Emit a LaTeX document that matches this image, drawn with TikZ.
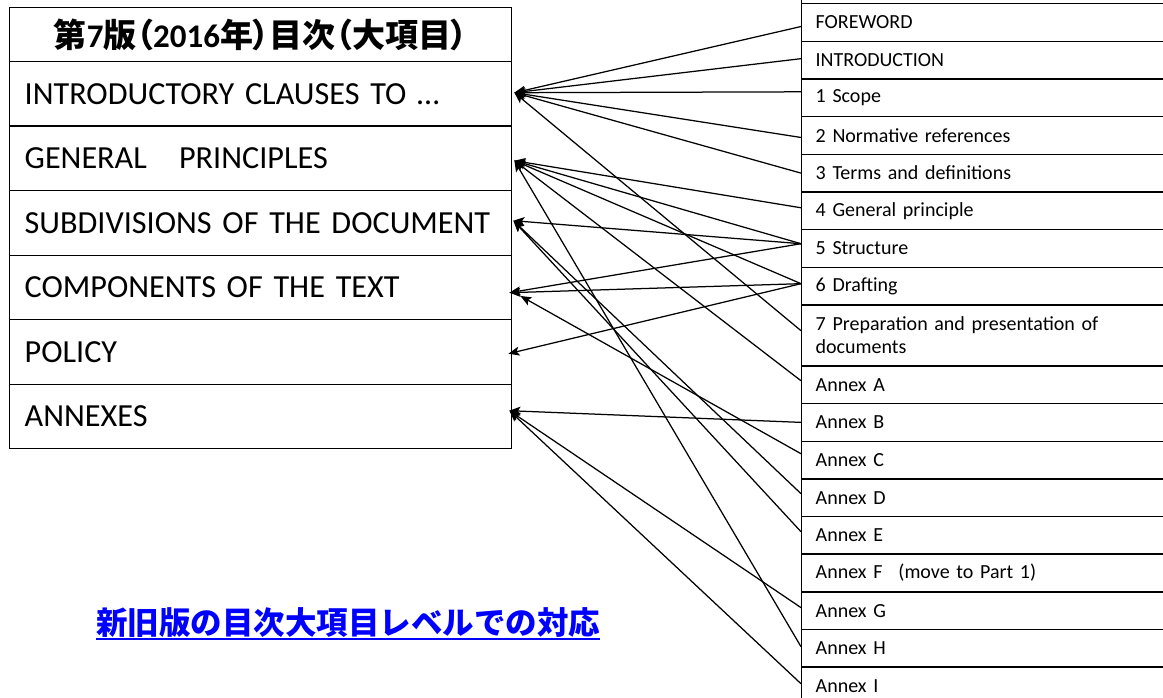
\documentclass[tikz,border=0pt]{standalone}
\usepackage{fontspec}
\setmainfont{Carlito}
\newfontfamily\cjk{Noto Sans CJK JP}
\newfontfamily\cjkp{Noto Sans CJK JP}[RawFeature=+palt]
\usetikzlibrary{arrows.meta,calc}
\definecolor{linkblue}{RGB}{0,0,255}
\begin{document}
\begin{tikzpicture}[x=1pt,y=-1pt,
  lrow/.style={draw, line width=1.4pt, minimum width=502pt, minimum height=64.5pt,
    text width=472pt, inner xsep=15pt, inner ysep=0pt, align=left, anchor=north west,
    font=\fontsize{32.2}{39}\selectfont},
  rrow/.style={draw, line width=1.4pt, minimum width=380pt, minimum height=37.65pt,
    text width=352pt, inner xsep=14pt, inner ysep=0pt, align=left, anchor=north west,
    font=\fontsize{20}{23}\selectfont},
  arr/.style={line width=1.25pt, -{Stealth[length=11pt,width=9pt,inset=2.5pt]}}]
\useasboundingbox (0,0) rectangle (1163,698);
\clip (0,0) rectangle (1163,698);

% left table
\node[lrow, minimum height=54pt, align=center, font=\cjkp\bfseries\fontsize{33}{39}\selectfont] (hd) at (9,7)
  {第{\rmfamily 7}版（{\rmfamily 2016}年）目次（大項目）};
\node[lrow] (l1) at (9,61) {\mbox{INTRODUCTORY CLAUSES TO …}};
\node[lrow] (l2) at (9,125.5) {\mbox{GENERAL\ \ \ PRINCIPLES}};
\node[lrow] (l3) at (9,190) {\mbox{SUBDIVISIONS OF THE DOCUMENT}};
\node[lrow] (l4) at (9,254.5) {\mbox{COMPONENTS OF THE TEXT}};
\node[lrow] (l5) at (9,319) {POLICY};
\node[lrow] (l6) at (9,383.5) {ANNEXES};

% right table
\node[rrow] (r0) at (801,-34.65) {};
\node[rrow] (fw) at (801,3) {FOREWORD};
\node[rrow] (in) at (801,40.65) {INTRODUCTION};
\node[rrow] (sc) at (801,78.3) {1 Scope};
\node[rrow] (nr) at (801,115.95) {2 Normative references};
\node[rrow] (tm) at (801,153.6) {3 Terms and definitions};
\node[rrow] (gp) at (801,191.25) {4 General principle};
\node[rrow] (st) at (801,228.9) {5 Structure};
\node[rrow] (dr) at (801,266.55) {6 Drafting};
\node[rrow, minimum height=61pt] (pp) at (801,304.2) {7 Preparation and presentation of\\documents};
\node[rrow] (aA) at (801,365.2) {Annex A};
\node[rrow] (aB) at (801,402.85) {Annex B};
\node[rrow] (aC) at (801,440.5) {Annex C};
\node[rrow] (aD) at (801,478.15) {Annex D};
\node[rrow] (aE) at (801,515.8) {Annex E};
\node[rrow] (aF) at (801,553.45) {Annex F\hspace{16pt}(move to Part 1)};
\node[rrow] (aG) at (801,591.1) {Annex G};
\node[rrow] (aH) at (801,628.75) {Annex H};
\node[rrow] (aI) at (801,666.4) {Annex I};

% arrow tips
\coordinate (t1) at ($(l1.east)+(2,-1.25)$);
\coordinate (t2) at ($(l2.east)+(2,2.25)$);
\coordinate (t3) at ($(l3.east)+(1,-2.25)$);
\coordinate (t4) at ($(l4.east)+(-3,5.25)$);
\coordinate (t4b) at ($(l4.east)+(8,8.5)$);
\coordinate (t5) at ($(l5.east)+(-4,1.75)$);
\coordinate (t6) at ($(l6.east)+(-3,-5.75)$);

% connectors
\draw[arr] ($(fw.west)+(0,4)$) -- (t1);
\draw[arr] ($(in.west)+(0,-1.5)$) -- (t1);
\draw[arr] ($(sc.west)+(0,-6)$) -- (t1);
\draw[arr] ($(nr.west)+(0,2)$) -- (t1);
\draw[arr] (tm.west) -- (t1);
\draw[arr] ($(pp.west)+(0,-4.7)$) -- (t1);

\draw[arr] ($(gp.west)+(0,-3)$) -- (t2);
\draw[arr] ($(st.west)+(0,-4.7)$) -- (t2);
\draw[arr] ($(dr.west)+(0,-2.4)$) -- (t2);
\draw[arr] ($(aA.west)+(0,-4)$) -- (t2);
\draw[arr] ($(aH.west)+(0,-1.6)$) -- (t2);

\draw[arr] ($(st.west)+(0,-4.7)$) -- (t3);
\draw[arr] ($(aD.west)+(0,-4)$) -- (t3);
\draw[arr] ($(aE.west)+(0,-3.6)$) -- (t3);

\draw[arr] ($(st.west)+(0,-4.7)$) -- (t4);
\draw[arr] ($(dr.west)+(0,-2.4)$) -- (t4);
\draw[arr] ($(aC.west)+(0,-6.3)$) -- (t4b);

\draw[arr] ($(dr.west)+(0,-2.4)$) -- (t5);

\draw[arr] (aB.west) -- (t6);
\draw[arr] ($(aG.west)+(0,-3)$) -- (t6);
\draw[arr] ($(aI.west)+(0,-2.2)$) -- (t6);

% caption
\node[font=\cjk\bfseries\fontsize{31.5}{36}\selectfont, text=linkblue, inner sep=0pt, anchor=base west] (bt) at (96,634)
  {新旧版の目次大項目レベルでの対応};
\draw[linkblue, line width=2pt] ($(bt.base west)+(0,5)$) -- ($(bt.base east)+(0,5)$);
\end{tikzpicture}
\end{document}
